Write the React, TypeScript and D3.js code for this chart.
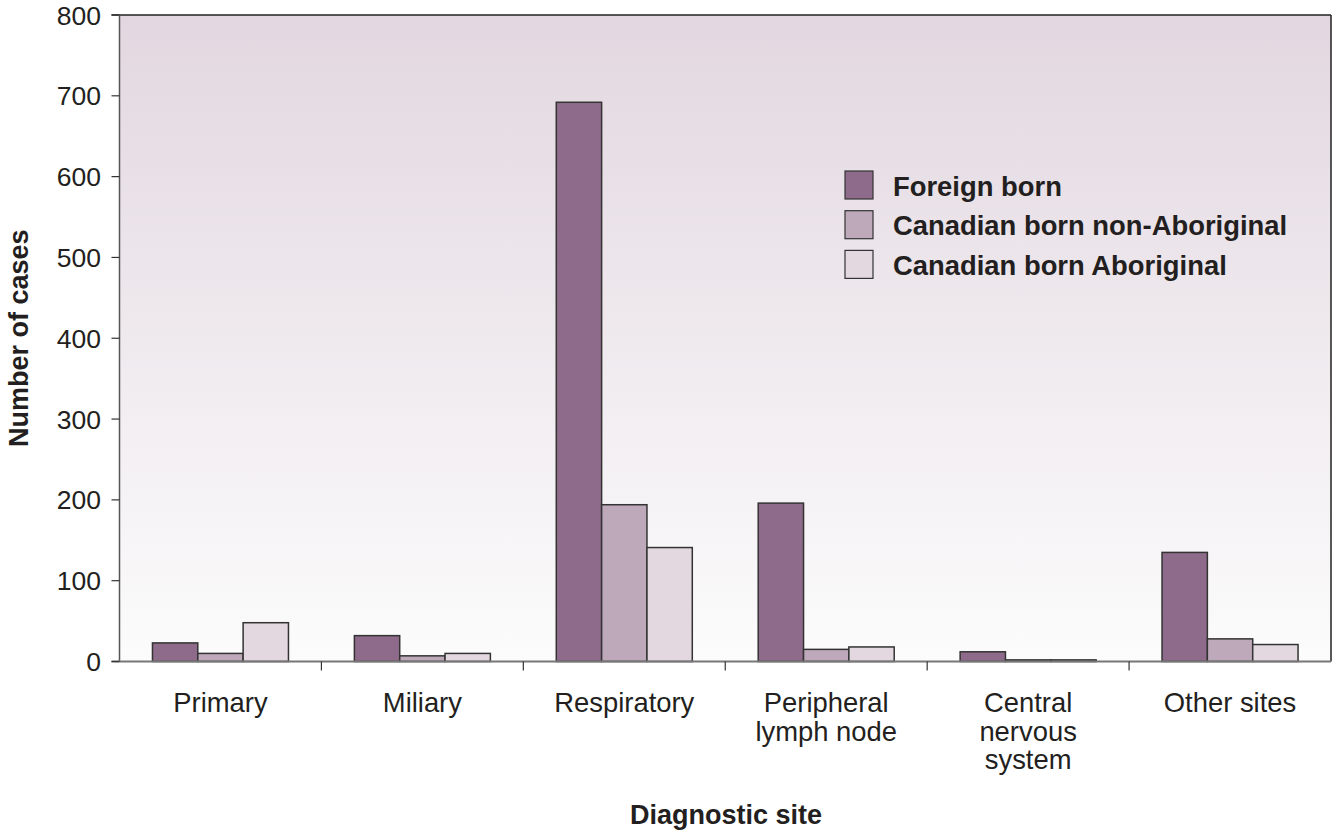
import React from "react";
import * as d3 from "d3";

const categories = [
  ["Primary"],
  ["Miliary"],
  ["Respiratory"],
  ["Peripheral", "lymph node"],
  ["Central", "nervous", "system"],
  ["Other sites"],
];
const seriesNames = ["Foreign born", "Canadian born non-Aboriginal", "Canadian born Aboriginal"];
const foreignBorn = [23, 32, 692, 196, 12, 135];
const canadianNonAboriginal = [10, 7, 194, 15, 2, 28];
const canadianAboriginal = [48, 10, 141, 18, 2, 21];
const yTicks = [0, 100, 200, 300, 400, 500, 600, 700, 800];
const colors = ["#8E6B8A", "#BEA9BB", "#E3D8E0"];

const W = 1333;
const H = 830;
const M = { left: 119.5, right: 1331, top: 15, bottom: 661.5 };

export default function App() {
  const series = [foreignBorn, canadianNonAboriginal, canadianAboriginal];
  const x = d3
    .scaleBand<number>()
    .domain(categories.map((_, i) => i))
    .range([M.left, M.right]);
  const groupW = 136;
  const x1 = d3
    .scaleBand<number>()
    .domain([0, 1, 2])
    .range([0, groupW]);
  const y = d3.scaleLinear().domain([0, 800]).range([M.bottom, M.top]);
  const font = "Arial, 'Liberation Sans', Helvetica, sans-serif";

  return (
    <svg
      width={W}
      height={H}
      style={{ position: "absolute", left: 0, top: 0, fontFamily: font }}
    >
      <defs>
        <linearGradient id="bg" x1="0" y1="0" x2="0" y2="1">
          <stop offset="0%" stopColor="#E2D7E0" />
          <stop offset="100%" stopColor="#FCFCFC" />
        </linearGradient>
      </defs>
      <rect x={0} y={0} width={W} height={H} fill="#fff" />
      <rect
        x={M.left}
        y={M.top}
        width={M.right - M.left}
        height={M.bottom - M.top}
        fill="url(#bg)"
      />
      {/* bars */}
      {categories.map((_, ci) => (
        <g key={ci} transform={`translate(${(x(ci) as number) + (x.bandwidth() - groupW) / 2},0)`}>
          {series.map((s, si) => (
            <rect
              key={si}
              x={x1(si) as number}
              y={y(s[ci])}
              width={x1.bandwidth()}
              height={M.bottom - y(s[ci])}
              fill={colors[si]}
              stroke="#333"
              strokeWidth={1.5}
            />
          ))}
        </g>
      ))}
      {/* frame */}
      <line x1={M.left - 8} x2={M.right} y1={M.top} y2={M.top} stroke="#222" strokeWidth={1.5} />
      <line x1={M.right} x2={M.right} y1={M.top} y2={M.bottom} stroke="#222" strokeWidth={1.5} />
      <line x1={M.left} x2={M.left} y1={M.top} y2={M.bottom} stroke="#555" strokeWidth={1.5} />
      <line x1={M.left - 8} x2={M.right} y1={M.bottom} y2={M.bottom} stroke="#777" strokeWidth={2} />
      {/* y ticks */}
      {yTicks.map((t) => (
        <g key={t}>
          <line x1={M.left - 8} x2={M.left} y1={y(t)} y2={y(t)} stroke="#333" strokeWidth={1.2} />
          <text
            x={101}
            y={y(t)}
            dy="0.36em"
            textAnchor="end"
            fontSize={26.5}
            fill="#231F20"
          >
            {t}
          </text>
        </g>
      ))}
      {/* x ticks at boundaries */}
      {categories.slice(1).map((_, i) => (
        <line
          key={i}
          x1={x(i + 1) as number}
          x2={x(i + 1) as number}
          y1={M.bottom}
          y2={M.bottom + 9}
          stroke="#333"
          strokeWidth={1.2}
        />
      ))}
      {/* x labels */}
      {categories.map((lines, ci) => (
        <text
          key={ci}
          x={(x(ci) as number) + x.bandwidth() / 2}
          y={712}
          textAnchor="middle"
          fontSize={27.4}
          fill="#231F20"
        >
          {lines.map((l, li) => (
            <tspan key={li} x={(x(ci) as number) + x.bandwidth() / 2} dy={li === 0 ? 0 : 28.5}>
              {l}
            </tspan>
          ))}
        </text>
      ))}
      {/* axis titles */}
      <text
        x={726}
        y={824}
        textAnchor="middle"
        fontSize={27}
        fontWeight="bold"
        fill="#231F20"
      >
        Diagnostic site
      </text>
      <text
        transform={`translate(28,${(M.top + M.bottom) / 2}) rotate(-90)`}
        textAnchor="middle"
        fontSize={27}
        fontWeight="bold"
        fill="#231F20"
      >
        Number of cases
      </text>
      {/* legend */}
      {seriesNames.map((n, i) => (
        <g key={n} transform={`translate(845,${171 + i * 39.7})`}>
          <rect width={28} height={28} fill={colors[i]} stroke="#333" strokeWidth={1.2} />
          <text x={48} y={24.5} fontSize={27.4} fontWeight="bold" fill="#231F20">
            {n}
          </text>
        </g>
      ))}
    </svg>
  );
}
